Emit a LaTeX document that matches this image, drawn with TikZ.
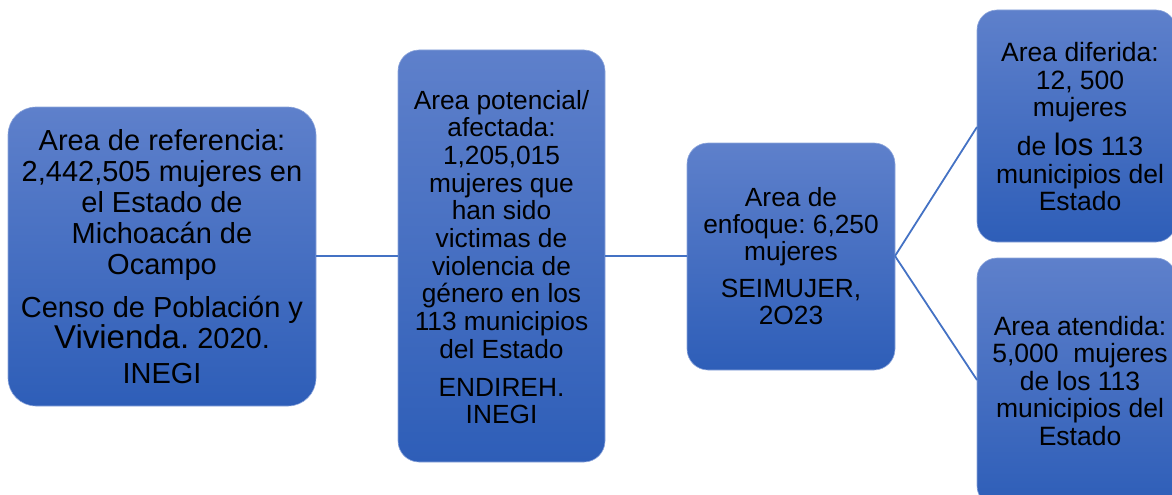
\documentclass[tikz,border=0pt]{standalone}
\usepackage{fontspec}
\setmainfont{Liberation Sans}
\frenchspacing
\definecolor{boxtop}{RGB}{94,128,203}
\definecolor{boxbot}{RGB}{46,94,184}
\definecolor{linkc}{RGB}{68,114,196}
\begin{document}
\begin{tikzpicture}[x=1pt,y=-1pt,
  area/.style={rounded corners=#1, top color=boxtop, bottom color=boxbot, draw=boxtop!70!white, line width=0.6pt},
  link/.style={draw=linkc, line width=1.8pt},
  txt/.style={align=center, text=black, inner sep=0pt}]
\useasboundingbox (0,0) rectangle (1172,495);
\begin{scope}
\clip (0,0) rectangle (1172,495);
% boxes
\path[area=28] (8,107) rectangle (316,406);
\coordinate (b1w) at (8,256); \coordinate (b1e) at (316,256);
\path[area=21] (398,50) rectangle (605,462);
\coordinate (b2w) at (398,256); \coordinate (b2e) at (605,256);
\path[area=21] (687,143) rectangle (895,370);
\coordinate (b3w) at (687,256); \coordinate (b3e) at (895,256);
\path[area=20] (977,10) rectangle (1176,242);
\coordinate (b4w) at (977,127);
\path[area=20] (977,258) rectangle (1176,506);
\coordinate (b5w) at (977,380);
% connectors
\draw[link] (b1e) -- (b2w);
\draw[link] (b2e) -- (b3w);
\draw[link] (b3e) -- (b4w);
\draw[link] (b3e) -- (b5w);
\end{scope}
% texts
\node[txt, font=\fontsize{29}{31}\selectfont] (t1) at (162,257) {Area de referencia:\\2,442,505 mujeres en\\el Estado de\\Michoacán de\\Ocampo\\[12pt]Censo de Población y\\{\fontsize{33}{33}\selectfont Vivienda.} 2020.\\[4pt]INEGI};
\node[txt, font=\fontsize{26.3}{27.7}\selectfont] (t2) at (501.5,257) {Area potencial/\\afectada:\\1,205,015\\mujeres que\\han sido\\victimas de\\violencia de\\género en los\\113 municipios\\del Estado\\[10pt]ENDIREH.\\INEGI};
\node[txt, font=\fontsize{26.3}{27}\selectfont] (t3) at (791,256) {Area de\\enfoque: 6,250\\mujeres\\[10pt]SEIMUJER,\\2O23};
\node[txt, font=\fontsize{26.5}{27.5}\selectfont] (t4) at (1080,127) {Area diferida:\\12, 500\\mujeres\\[10pt]de {\fontsize{31}{31}\selectfont los} 113\\municipios del\\Estado};
\node[txt, font=\fontsize{26.5}{27.5}\selectfont] (t5) at (1080,381) {Area atendida:\\5,000\ \ mujeres\\de los 113\\municipios del\\Estado};
\end{tikzpicture}
\end{document}
